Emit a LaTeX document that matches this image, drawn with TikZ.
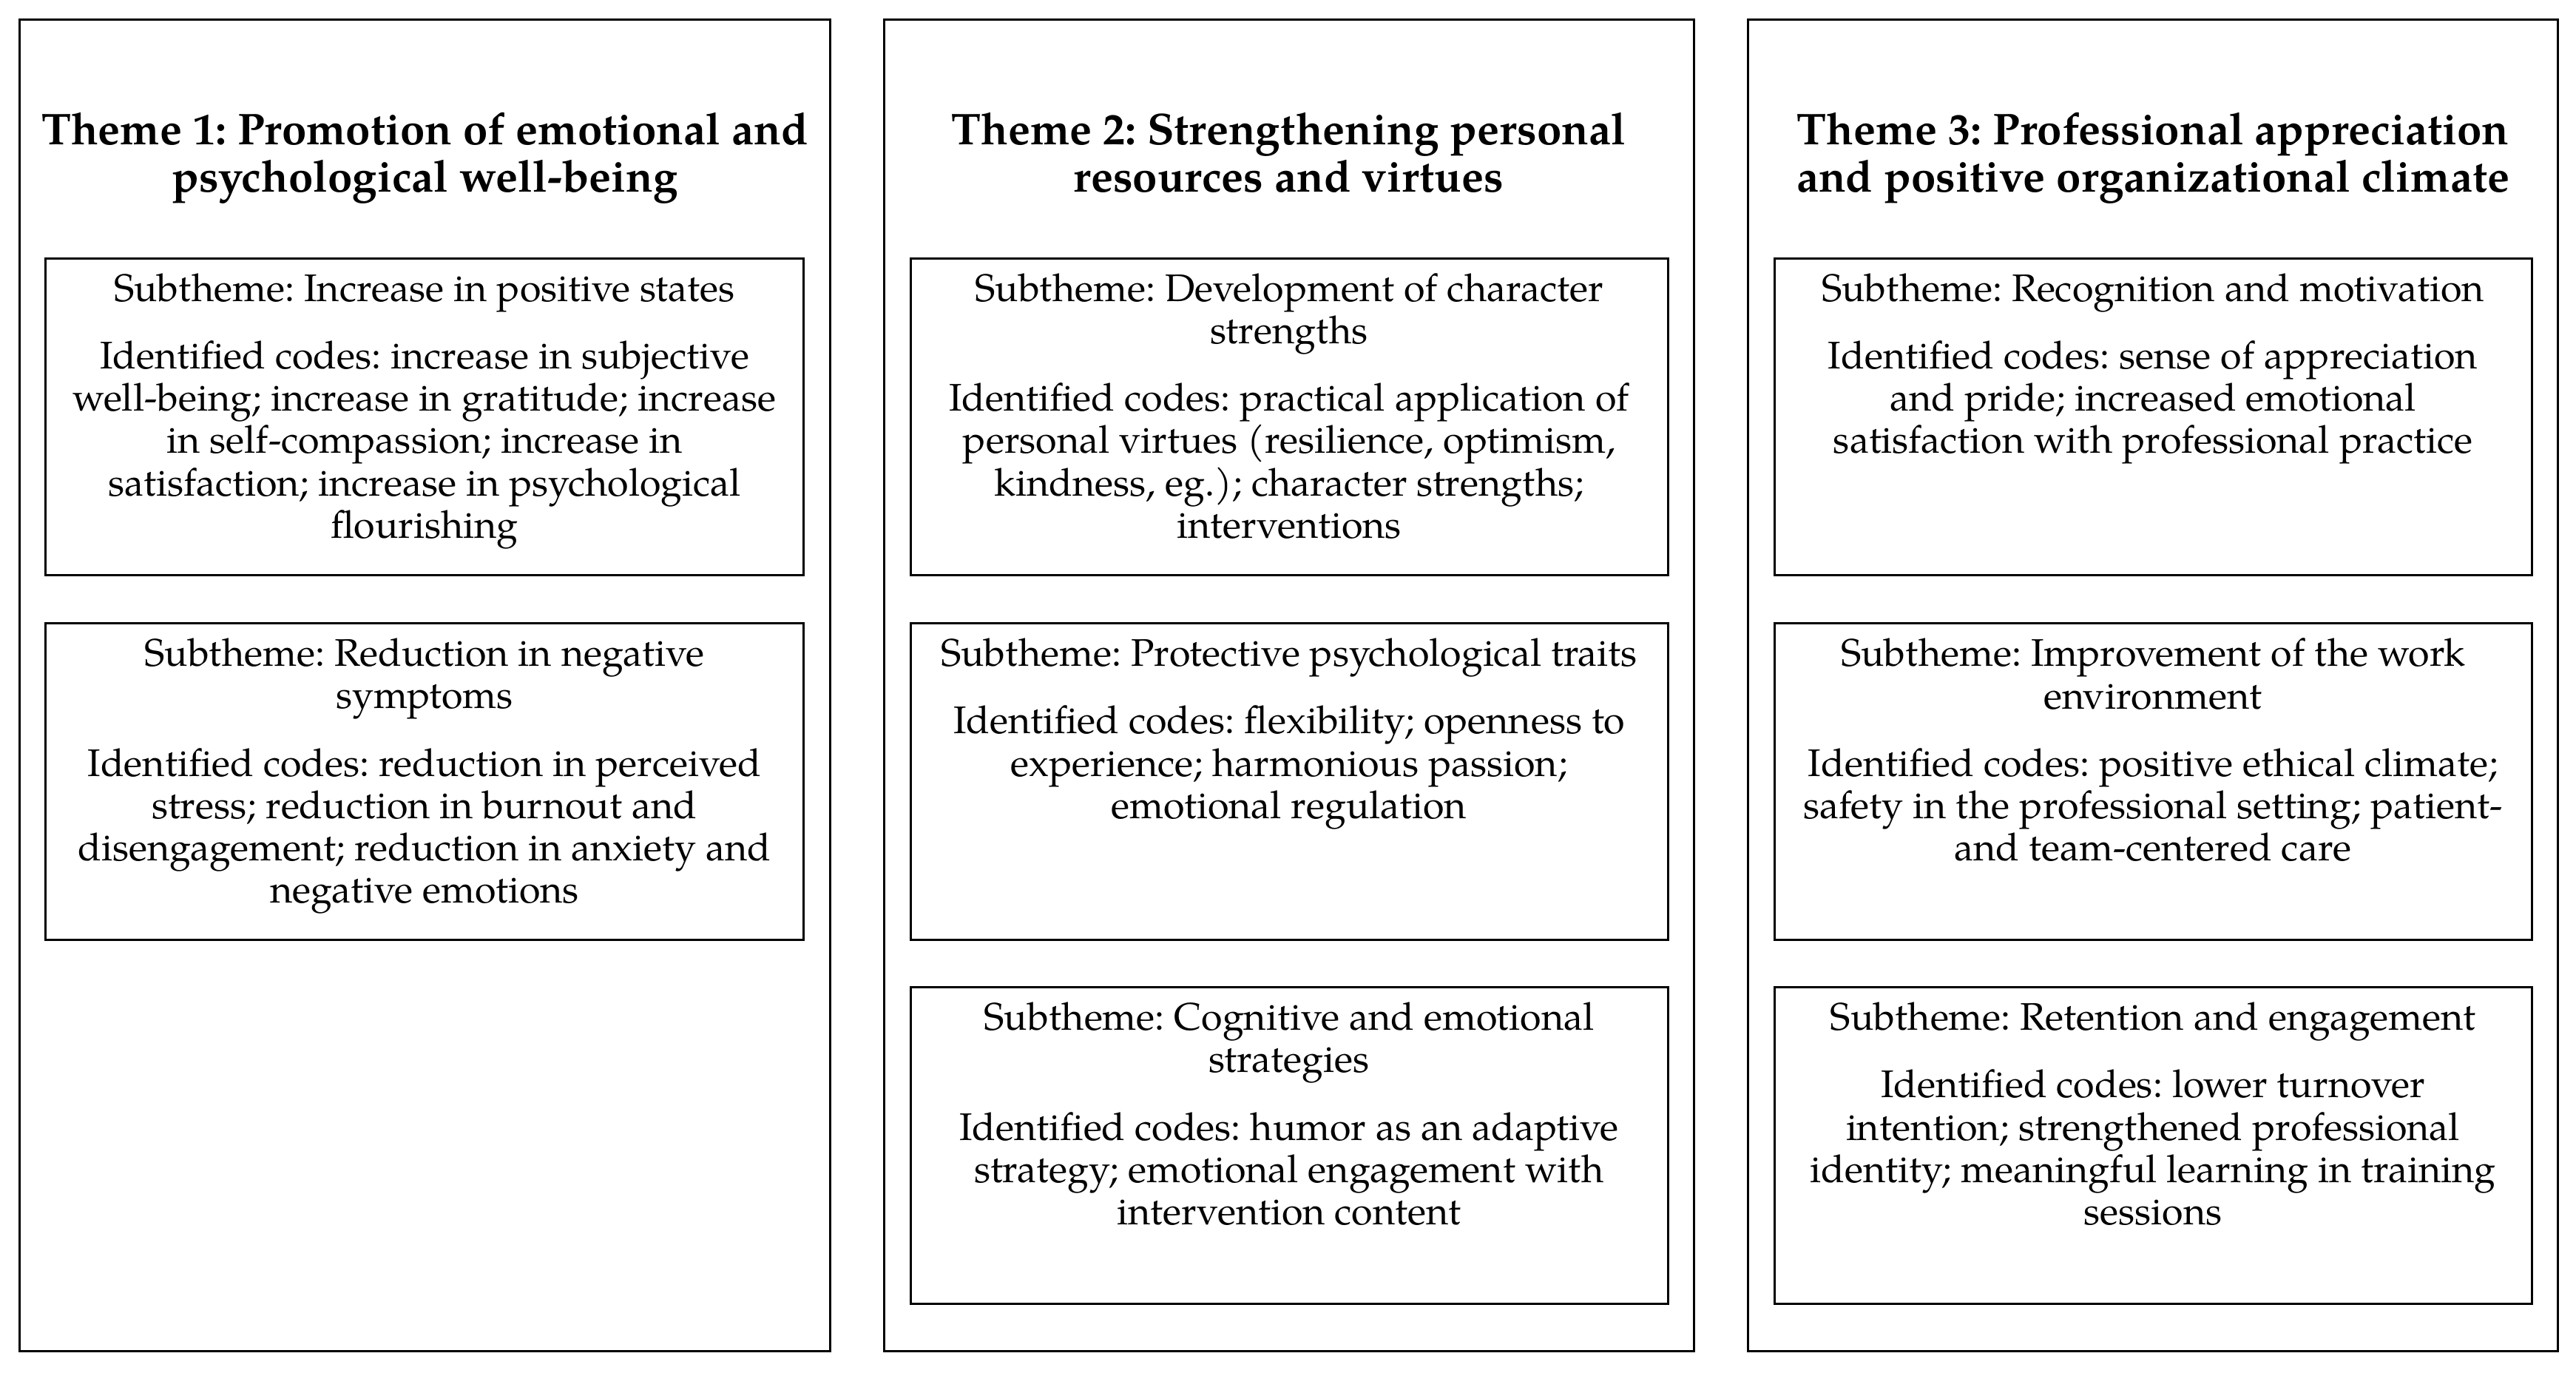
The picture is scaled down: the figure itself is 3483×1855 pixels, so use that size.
\documentclass[tikz,border=0pt]{standalone}
\usepackage{fontspec}
\setmainfont{TeX Gyre Pagella}
\frenchspacing
\begin{document}
\begin{tikzpicture}[x=0.2pt,y=-0.2pt,
  outerbox/.style={draw=black, line width=0.6pt, minimum width=219pt, minimum height=359.8pt, inner sep=0pt},
  subbox/.style={draw=black, line width=0.6pt, minimum width=204.8pt, minimum height=85.6pt, inner sep=0pt},
  titletxt/.style={anchor=north, align=center, inner sep=0pt, font=\fontsize{12}{12.7}\selectfont\bfseries},
  subtxt/.style={anchor=north, align=center, inner sep=0pt, font=\fontsize{10.4}{11.44}\selectfont},
]
\useasboundingbox[fill=white] (0,0) rectangle (3483,1855);
% outer theme boxes
\node[outerbox] (o1) at (574.5,926.5) {};
\node[outerbox] (o2) at (1742.5,926.5) {};
\node[outerbox] (o3) at (2911,926.5) {};
% titles
\node[titletxt] (h1) at ([yshift=-25.2pt]o1.north) {Theme 1: Promotion of emotional and\\psychological well-being};
\node[titletxt] (h2) at ([yshift=-25.2pt]o2.north) {Theme 2: Strengthening personal\\resources and virtues};
\node[titletxt] (h3) at ([yshift=-25.2pt]o3.north) {Theme 3: Professional appreciation\\and positive organizational climate};
% subtheme boxes
\node[subbox] (s11) at (574,563) {};
\node[subbox] (s12) at (574,1056.5) {};
\node[subbox] (s21) at (1743,563) {};
\node[subbox] (s22) at (1743,1056.5) {};
\node[subbox] (s23) at (1743,1548.5) {};
\node[subbox] (s31) at (2911,563) {};
\node[subbox] (s32) at (2911,1056.5) {};
\node[subbox] (s33) at (2911,1548.5) {};
% texts
\node[subtxt] (t11) at ([yshift=-4.2pt]s11.north) {Subtheme: Increase in positive states\\[6.8pt]
Identified codes: increase in subjective\\well-being; increase in gratitude; increase\\in self-compassion; increase in\\satisfaction; increase in psychological\\flourishing};
\node[subtxt] (t12) at ([yshift=-4.2pt]s12.north) {Subtheme: Reduction in negative\\symptoms\\[6.8pt]
Identified codes: reduction in perceived\\stress; reduction in burnout and\\disengagement; reduction in anxiety and\\negative emotions};
\node[subtxt] (t21) at ([yshift=-4.2pt]s21.north) {Subtheme: Development of character\\strengths\\[6.8pt]
Identified codes: practical application of\\personal virtues (resilience, optimism,\\kindness, eg.); character strengths;\\interventions};
\node[subtxt] (t22) at ([yshift=-4.2pt]s22.north) {Subtheme: Protective psychological traits\\[6.8pt]
Identified codes: flexibility; openness to\\experience; harmonious passion;\\emotional regulation};
\node[subtxt] (t23) at ([yshift=-4.2pt]s23.north) {Subtheme: Cognitive and emotional\\strategies\\[6.8pt]
Identified codes: humor as an adaptive\\strategy; emotional engagement with\\intervention content};
\node[subtxt] (t31) at ([yshift=-4.2pt]s31.north) {Subtheme: Recognition and motivation\\[6.8pt]
Identified codes: sense of appreciation\\and pride; increased emotional\\satisfaction with professional practice};
\node[subtxt] (t32) at ([yshift=-4.2pt]s32.north) {Subtheme: Improvement of the work\\environment\\[6.8pt]
Identified codes: positive ethical climate;\\safety in the professional setting; patient-\\and team-centered care};
\node[subtxt] (t33) at ([yshift=-4.2pt]s33.north) {Subtheme: Retention and engagement\\[6.8pt]
Identified codes: lower turnover\\intention; strengthened professional\\identity; meaningful learning in training\\sessions};
\end{tikzpicture}
\end{document}
